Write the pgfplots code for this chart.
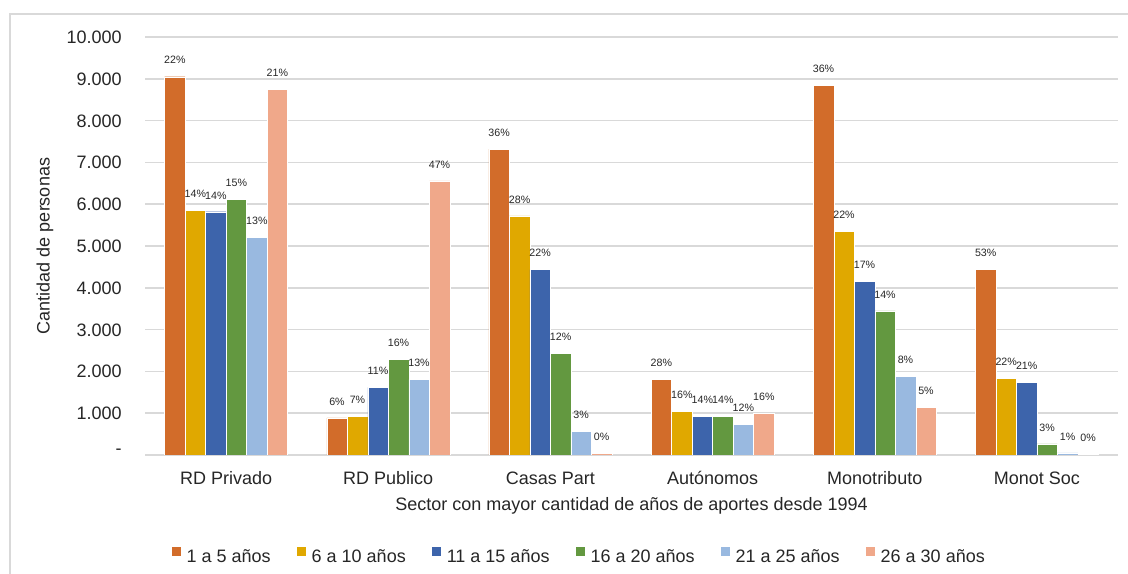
\documentclass[border=0pt]{standalone}
\usepackage{fontspec}
\setmainfont{Liberation Sans}
\usepackage{pgfplots}
\pgfplotsset{compat=1.18}
\usepackage{pgfplotstable}

\definecolor{c1}{HTML}{D26C2A}
\definecolor{c2}{HTML}{E0A800}
\definecolor{c3}{HTML}{3D64AB}
\definecolor{c4}{HTML}{639840}
\definecolor{c5}{HTML}{99B9E0}
\definecolor{c6}{HTML}{F0A88A}
\definecolor{gridgray}{HTML}{D9D9D9}
\definecolor{txt}{HTML}{262626}

% one table per age band: sector index, persons, share within the sector (%)
\pgfplotstableread{
x y p
0 9050 22
1 890 6
2 7320 36
3 1810 28
4 8835 36
5 4435 53
}\tA
\pgfplotstableread{
x y p
0 5860 14
1 930 7
2 5720 28
3 1040 16
4 5350 22
5 1835 22
}\tB
\pgfplotstableread{
x y p
0 5820 14
1 1620 11
2 4435 22
3 925 14
4 4155 17
5 1740 21
}\tC
\pgfplotstableread{
x y p
0 6120 15
1 2280 16
2 2425 12
3 925 14
4 3450 14
5 265 3
}\tD
\pgfplotstableread{
x y p
0 5215 13
1 1810 13
2 560 3
3 740 12
4 1875 8
5 50 1
}\tE
\pgfplotstableread{
x y p
0 8755 21
1 6560 47
2 40 0
3 1000 16
4 1140 5
5 20 0
}\tF

\begin{document}
\begin{tikzpicture}[x=0.75pt,y=0.75pt]
\useasboundingbox (0,0) rectangle (1128,574);
\draw[gridgray, line width=0.9pt] (10,0) -- (10,560) -- (1128,560);
\begin{axis}[
  at={(108.75pt,89.25pt)}, anchor=south west,
  scale only axis, width=729.75pt, height=313.5pt,
  ybar=0pt, bar width=15.375pt,
  xmin=-0.5, xmax=5.5, ymin=0, ymax=10000,
  scaled y ticks=false,
  xtick={0,...,5},
  xticklabels={RD Privado,RD Publico,Casas Part,Autónomos,Monotributo,Monot Soc},
  ytick={0,1000,...,10000},
  yticklabels={\raisebox{5pt}{-},1.000,2.000,3.000,4.000,5.000,6.000,7.000,8.000,9.000,10.000},
  ymajorgrids, grid style={gridgray, line width=1.1pt},
  axis line style={draw=none}, major tick length=0pt,
  tick label style={font=\fontsize{13.5}{16}\selectfont, text=txt},
  xticklabel style={anchor=base, inner sep=0pt, yshift=-22.5pt},
  yticklabel style={anchor=base east, inner sep=0pt, xshift=-17.25pt, yshift=-4.9pt},
  label style={font=\fontsize{13.5}{16}\selectfont, text=txt},
  ylabel={Cantidad de personas},
  ylabel style={at={(axis description cs:-0.1028,0.5)}, anchor=center},
  xlabel={Sector con mayor cantidad de años de aportes desde 1994},
  xlabel style={at={(axis description cs:0.5,-0.132)}, anchor=base, inner sep=0pt},
  point meta=explicit symbolic,
  nodes near coords={\pgfplotspointmeta\%},
  every node near coord/.append style={font=\fontsize{8}{9.6}\selectfont, text=txt, yshift=6pt},
  legend columns=6,
  legend image code/.code={\fill (0pt,0pt) rectangle (7.5pt,8pt);},
  legend style={at={(0.0267,-0.239)}, anchor=west, draw=none, fill=none,
    inner sep=0pt, font=\fontsize{13.5}{16}\selectfont, text=txt,
    nodes={inner sep=0pt},
    /tikz/every odd column/.append style={column sep=3.75pt},
    /tikz/every even column/.append style={column sep=19.2pt}},
]
\addplot[fill=c1, draw=white, line width=0.3pt] table[x=x,y=y,meta=p] {\tA};
\addplot[fill=c2, draw=white, line width=0.3pt] table[x=x,y=y,meta=p] {\tB};
\addplot[fill=c3, draw=white, line width=0.3pt] table[x=x,y=y,meta=p] {\tC};
\addplot[fill=c4, draw=white, line width=0.3pt] table[x=x,y=y,meta=p] {\tD};
\addplot[fill=c5, draw=white, line width=0.3pt] table[x=x,y=y,meta=p] {\tE};
\addplot[fill=c6, draw=white, line width=0.3pt] table[x=x,y=y,meta=p] {\tF};
\legend{1 a 5 años,6 a 10 años,11 a 15 años,16 a 20 años,21 a 25 años,26 a 30 años}
\end{axis}
\end{tikzpicture}
\end{document}
